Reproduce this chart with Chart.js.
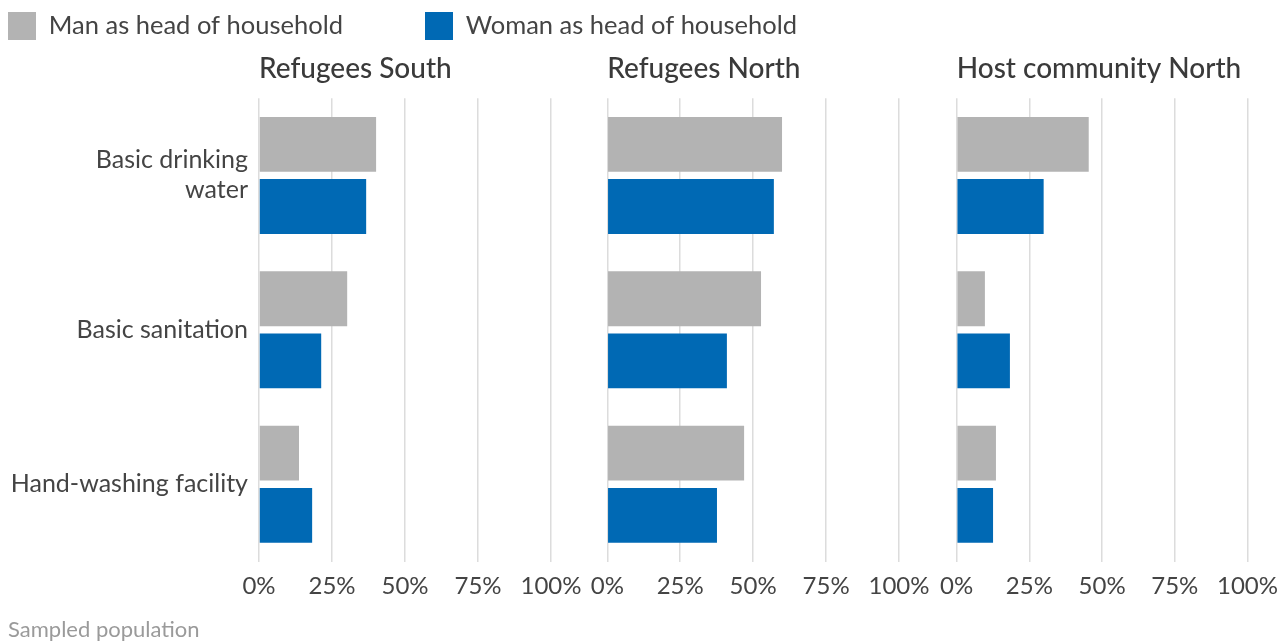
<!DOCTYPE html>
<html>
<head>
<meta charset="utf-8">
<script src="https://cdn.jsdelivr.net/npm/chart.js@4.4.1/dist/chart.umd.min.js"></script>
<style>
  html, body { margin: 0; padding: 0; background: #ffffff; }
  #wrap { position: relative; width: 1288px; height: 643px; overflow: hidden; background: #fff; }
  canvas { position: absolute; top: 0; }
</style>
</head>
<body>
<div id="wrap">
  <canvas id="c1" width="600" height="643" style="left:8px"></canvas>
  <canvas id="c2" width="535" height="643" style="left:425px"></canvas>
  <canvas id="c3" width="388" height="643" style="left:900px"></canvas>
</div>
<script>
const categories = [['Basic drinking', 'water'], 'Basic sanitation', 'Hand-washing facility'];
const seriesNames = ['Man as head of household', 'Woman as head of household'];
const panelTitles = ['Refugees South', 'Refugees North', 'Host community North'];
const tickLabels = ['0%', '25%', '50%', '75%', '100%'];
const footerText = 'Sampled population';

const southMan = [40.1, 30.2, 13.7];
const southWoman = [36.7, 21.3, 18.2];
const northMan = [59.9, 52.7, 46.9];
const northWoman = [57.1, 41.0, 37.6];
const hostMan = [45.4, 9.7, 13.5];
const hostWoman = [29.9, 18.3, 12.5];

const GREY = '#b3b3b3';
const BLUE = '#0069b4';
const TEXT = '#444444';
const FONT = 'Lato, "Open Sans", sans-serif';

function makeChart(id, title, man, woman, cfg) {
  const ctx = document.getElementById(id);
  return new Chart(ctx, {
    type: 'bar',
    data: {
      labels: categories,
      datasets: [
        { label: seriesNames[0], data: man, backgroundColor: GREY, borderWidth: 0,
          categoryPercentage: 0.805, barPercentage: 0.882 },
        { label: seriesNames[1], data: woman, backgroundColor: BLUE, borderWidth: 0,
          categoryPercentage: 0.805, barPercentage: 0.882 }
      ]
    },
    options: {
      indexAxis: 'y',
      responsive: false,
      animation: false,
      devicePixelRatio: 1,
      layout: { padding: cfg.padding },
      plugins: {
        tooltip: { enabled: false },
        legend: {
          display: cfg.legendIndex !== null,
          position: 'top',
          align: 'start',
          labels: {
            filter: (item) => item.datasetIndex === cfg.legendIndex,
            boxWidth: 28,
            boxHeight: 28,
            padding: 0,
            color: TEXT,
            font: { family: FONT, size: 25.5 }
          }
        },
        title: {
          display: true,
          text: title,
          align: 'start',
          fullSize: false,
          weight: 500,
          color: '#3a3a3a',
          font: { family: FONT, size: 28, weight: '500' },
          padding: { top: 1.7, bottom: 12.9 }
        },
        subtitle: {
          display: cfg.footer,
          text: footerText,
          position: 'bottom',
          align: 'start',
          color: '#9a9a9a',
          font: { family: FONT, size: 22, weight: 'normal' },
          padding: { top: 6.3, bottom: 0 }
        }
      },
      scales: {
        x: {
          min: 0,
          max: 100,
          border: { display: false },
          grid: { color: '#dcdcdc', lineWidth: 1.5, drawTicks: false },
          ticks: {
            stepSize: 25,
            maxRotation: 0,
            autoSkip: false,
            padding: 10,
            color: TEXT,
            font: { family: FONT, size: 24 },
            callback: (v, i) => tickLabels[i]
          }
        },
        y: {
          display: cfg.yWidth !== null,
          border: { display: false },
          grid: { display: false, drawTicks: false },
          ticks: {
            display: cfg.yLabels,
            padding: 11,
            color: TEXT,
            font: { family: FONT, size: 25, lineHeight: 1.2 }
          },
          afterFit: (scale) => { if (cfg.yWidth !== null) scale.width = cfg.yWidth; }
        }
      }
    }
  });
}

makeChart('c1', panelTitles[0], southMan, southWoman,
  { padding: { top: 12, left: 0, right: 57, bottom: 0 }, legendIndex: 0, footer: true, yWidth: 251, yLabels: true });
makeChart('c2', panelTitles[1], northMan, northWoman,
  { padding: { top: 12, left: 0, right: 61, bottom: 32.7 }, legendIndex: 1, footer: false, yWidth: 182.3, yLabels: false });
makeChart('c3', panelTitles[2], hostMan, hostWoman,
  { padding: { top: 50, left: 56.7, right: 40, bottom: 32.7 }, legendIndex: null, footer: false, yWidth: null, yLabels: false });
</script>
</body>
</html>
